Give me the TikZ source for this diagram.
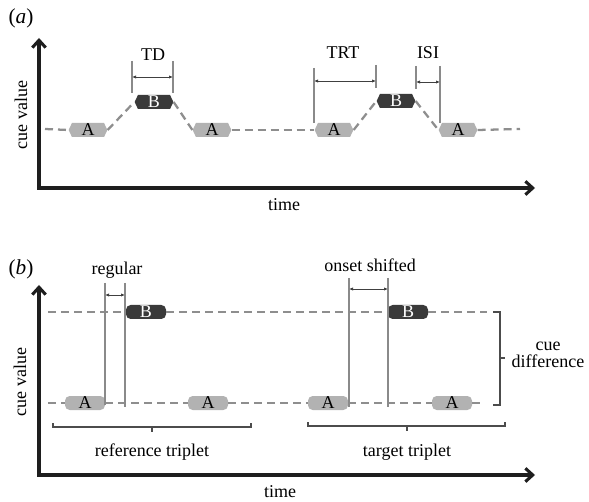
\documentclass[tikz,border=0pt]{standalone}
\usepackage{fontspec}
\setmainfont{Liberation Serif}
\usetikzlibrary{arrows.meta,shapes.symbols}
\definecolor{lightbox}{HTML}{B2B2B2}
\definecolor{darkbox}{HTML}{3A3A3A}
\definecolor{dashgrey}{HTML}{8E8E8E}
\definecolor{dimgrey}{HTML}{8A8A8A}
\definecolor{axisblack}{HTML}{1E1E1E}
\tikzset{
  lbl/.style={font=\fontsize{13.5}{15}\selectfont, inner sep=1pt},
  cuebox/.style={signal, signal to=east and west, signal pointer angle=130,
    minimum width=29pt, minimum height=10.5pt,
    inner sep=0pt, font=\fontsize{13.5}{15}\selectfont},
  roundbox/.style={rectangle, rounded corners=3.5pt, minimum width=30pt,
    minimum height=10.5pt, inner sep=0pt, font=\fontsize{13.5}{15}\selectfont},
  boxA/.style={fill=lightbox, text=black},
  boxB/.style={fill=darkbox, text=white},
  cuedash/.style={dashgrey, line width=1.7pt, dash pattern=on 6pt off 3.75pt},
  axisline/.style={axisblack, line width=2.3pt,
    {Straight Barb[length=5.5pt,width=10pt]}-{Straight Barb[length=5.5pt,width=10pt]}},
  dimline/.style={dimgrey, line width=0.8pt},
  dimarrow/.style={black!75, line width=0.6pt,
    {Latex[length=3pt,width=2.5pt]}-{Latex[length=3pt,width=2.5pt]}},
  bracket/.style={black!70, line width=0.9pt},
}
\begin{document}
\begin{tikzpicture}[x=0.75pt,y=-0.75pt]
\useasboundingbox (0,0) rectangle (589,502);

% (a) tone triplets
\node[lbl, font=\fontsize{16}{18}\selectfont] (panela) at (21,18) {(\textit{a})};
\coordinate (ya) at (39,38);
\coordinate (oa) at (39,188);
\coordinate (xa) at (535,188);
\draw[axisline] (ya) -- (oa) -- (xa);
\node[lbl, rotate=90] (cuea) at (21,115) {cue value};
\node[lbl] (timea) at (284,205) {time};

\node[cuebox, boxA] (a1) at (88,130) {A};
\node[cuebox, boxB] (b1) at (154,102) {B};
\node[cuebox, boxA] (a2) at (212,130) {A};
\node[cuebox, boxA] (a3) at (334,130) {A};
\node[cuebox, boxB] (b2) at (396,101) {B};
\node[cuebox, boxA] (a4) at (458,130) {A};
\coordinate (da0) at (45,129);
\coordinate (da1) at (520,129);

\draw[cuedash] (da0) -- (a1.west);
\draw[cuedash] (a1.east) -- (b1.west);
\draw[cuedash] (b1.east) -- (a2.west);
\draw[cuedash] (a2.east) -- (a3.west);
\draw[cuedash] (a3.east) -- (b2.west);
\draw[cuedash] (b2.east) -- (a4.west);
\draw[cuedash] (a4.east) -- (da1);

% TD
\draw[dimline] (132,61) -- (132,93);
\draw[dimline] (173,61) -- (173,93);
\draw[dimarrow] (132,77) -- (173,77);
\node[lbl] (td) at (153,55) {TD};
% TRT
\draw[dimline] (314,68) -- (314,123);
\draw[dimline] (376,65) -- (376,88);
\draw[dimarrow] (314,81) -- (376,81);
\node[lbl] (trt) at (343,53) {TRT};
% ISI
\draw[dimline] (416,66) -- (416,89);
\draw[dimline] (440,66) -- (440,123);
\draw[dimarrow] (416,82) -- (440,82);
\node[lbl] (isi) at (428,53) {ISI};

% (b) reference and target
\node[lbl, font=\fontsize{16}{18}\selectfont] (panelb) at (21,269) {(\textit{b})};
\coordinate (yb) at (39,285);
\coordinate (ob) at (39,475);
\coordinate (xb) at (535,475);
\draw[axisline] (yb) -- (ob) -- (xb);
\node[lbl, rotate=90] (cueb) at (20,382) {cue value};
\node[lbl] (timeb) at (280,492) {time};

\node[roundbox, boxB] (rb) at (146,312) {B};
\node[roundbox, boxA] (ra1) at (85,403) {A};
\node[roundbox, boxA] (ra2) at (208,403) {A};
\node[roundbox, boxB] (tb) at (408,312) {B};
\node[roundbox, boxA] (ta1) at (328,403) {A};
\node[roundbox, boxA] (ta2) at (452,403) {A};
\coordinate (db0) at (48,312);
\coordinate (db1) at (487,312);
\coordinate (dc0) at (48,403);
\coordinate (dc1) at (482,403);

\draw[cuedash] (db0) -- (rb.west);
\draw[cuedash] (rb.east) -- (tb.west);
\draw[cuedash] (tb.east) -- (db1);
\draw[cuedash] (dc0) -- (ra1.west);
\draw[cuedash] (ra1.east) -- (ra2.west);
\draw[cuedash] (ra2.east) -- (ta1.west);
\draw[cuedash] (ta1.east) -- (ta2.west);
\draw[cuedash] (ta2.east) -- (dc1);

% regular
\draw[dimline] (105,283) -- (105,405);
\draw[dimline] (125,283) -- (125,407);
\draw[dimarrow] (105,295) -- (125,295);
\node[lbl] (regular) at (117,270) {regular};
% onset shifted
\draw[dimline] (349,278) -- (349,407);
\draw[dimline] (388,278) -- (388,407);
\draw[dimarrow] (349,289) -- (388,289);
\node[lbl] (shifted) at (370,265) {onset shifted};

% brackets
\draw[bracket] (493,312) -- (500,312) -- (500,405) -- (493,405);
\draw[bracket] (500,358) -- (505,358);
\node[lbl, align=center, font=\fontsize{13.5}{13}\selectfont] (cdiff) at (548,355) {cue\\difference};
\draw[bracket] (53,423) -- (53,427) -- (251,427) -- (251,423);
\draw[bracket] (152,427) -- (152,432);
\node[lbl] (reftrip) at (152,452) {reference triplet};
\draw[bracket] (308,422) -- (308,426) -- (505,426) -- (505,422);
\draw[bracket] (407,426) -- (407,431);
\node[lbl] (tartrip) at (407,452) {target triplet};
\end{tikzpicture}
\end{document}
